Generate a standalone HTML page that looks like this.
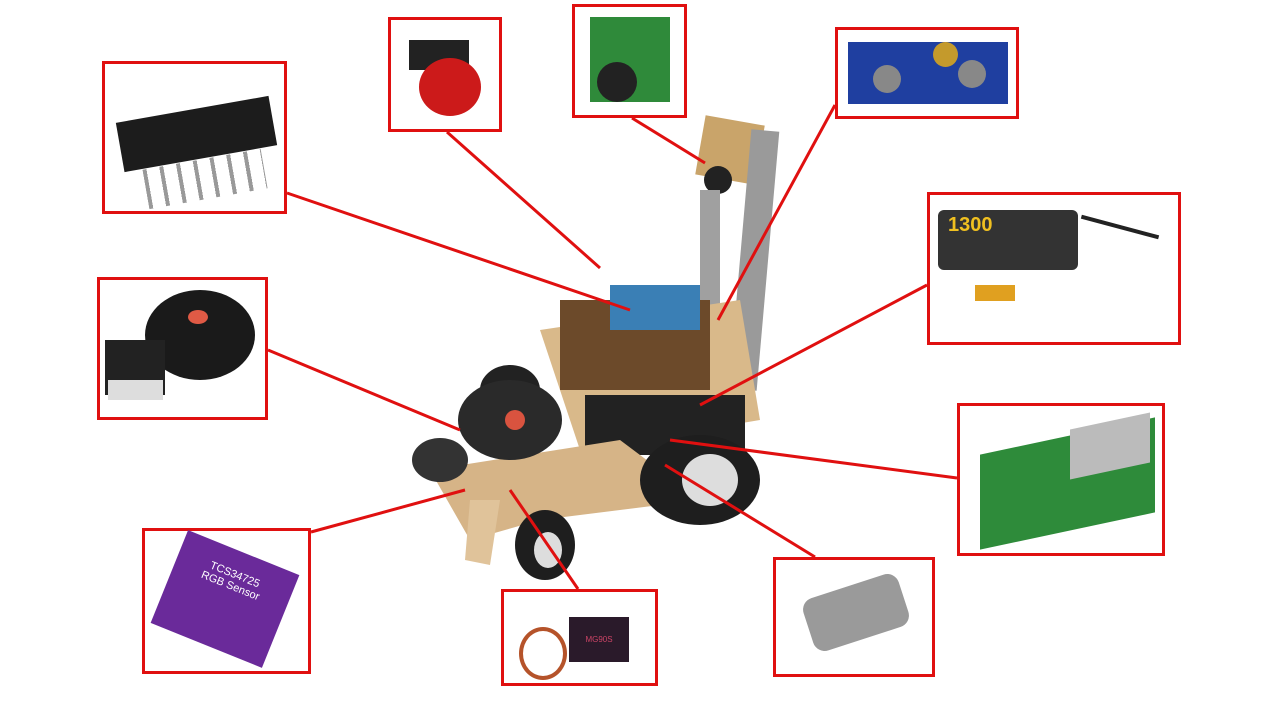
<!DOCTYPE html>
<html><head><meta charset="utf-8">
<style>
html,body{margin:0;padding:0;background:#fff;}
#stage{position:relative;width:1280px;height:720px;overflow:hidden;background:#fff;font-family:"Liberation Sans",sans-serif;}
.box{position:absolute;border:3px solid #e01010;box-sizing:border-box;background:#fff;}
svg{position:absolute;left:0;top:0;}
</style></head><body>
<div id="stage">
<svg width="1280" height="720">
  <!-- robot body -->
  <g>
    <rect x="700" y="120" width="60" height="60" fill="#c9a46a" transform="rotate(10 730 150)"/>
    <circle cx="718" cy="180" r="14" fill="#222"/>
    <rect x="740" y="130" width="28" height="260" fill="#9a9a9a" transform="rotate(5 754 260)"/>
    <rect x="700" y="190" width="20" height="200" fill="#a0a0a0"/>
    <polygon points="540,330 740,300 760,420 580,450" fill="#d9b98a"/>
    <rect x="560" y="300" width="150" height="90" fill="#6c4a2a"/>
    <rect x="610" y="285" width="90" height="45" fill="#3a7fb5"/>
    <rect x="585" y="395" width="160" height="60" fill="#222"/>
    <polygon points="430,470 620,440 700,500 540,520 470,540" fill="#d6b487"/>
    <ellipse cx="700" cy="480" rx="60" ry="45" fill="#1e1e1e"/>
    <ellipse cx="710" cy="480" rx="28" ry="26" fill="#ddd"/>
    <ellipse cx="545" cy="545" rx="30" ry="35" fill="#1e1e1e"/>
    <ellipse cx="548" cy="550" rx="14" ry="18" fill="#ddd"/>
    <ellipse cx="510" cy="390" rx="30" ry="25" fill="#222"/>
    <ellipse cx="510" cy="420" rx="52" ry="40" fill="#2a2a2a"/>
    <circle cx="515" cy="420" r="10" fill="#d9533f"/>
    <ellipse cx="440" cy="460" rx="28" ry="22" fill="#333"/>
    <polygon points="470,500 500,500 490,565 465,560" fill="#e0c39a"/>
  </g>
  <!-- leader lines -->
  <g stroke="#e01010" stroke-width="3">
    <line x1="287" y1="193" x2="630" y2="310"/>
    <line x1="447" y1="132" x2="600" y2="268"/>
    <line x1="632" y1="118" x2="705" y2="163"/>
    <line x1="835" y1="105" x2="718" y2="320"/>
    <line x1="927" y1="285" x2="700" y2="405"/>
    <line x1="268" y1="350" x2="460" y2="430"/>
    <line x1="957" y1="478" x2="670" y2="440"/>
    <line x1="815" y1="557" x2="665" y2="465"/>
    <line x1="578" y1="589" x2="510" y2="490"/>
    <line x1="311" y1="532" x2="465" y2="490"/>
  </g>
</svg>

<div class="box" style="left:102px;top:61px;width:185px;height:153px">
  <div style="position:absolute;left:14px;top:45px;width:155px;height:50px;background:#1c1c1c;transform:rotate(-10deg)"></div>
  <div style="position:absolute;left:40px;top:95px;width:120px;height:40px;background:repeating-linear-gradient(90deg,#999 0 4px,transparent 4px 17px);transform:rotate(-10deg)"></div>
</div>
<div class="box" style="left:388px;top:17px;width:114px;height:115px">
  <div style="position:absolute;left:18px;top:20px;width:60px;height:30px;background:#222"></div>
  <div style="position:absolute;left:28px;top:38px;width:62px;height:58px;border-radius:50%;background:#cc1a1a"></div>
</div>
<div class="box" style="left:572px;top:4px;width:115px;height:114px">
  <div style="position:absolute;left:15px;top:10px;width:80px;height:85px;background:#2f8a3a"></div>
  <div style="position:absolute;left:22px;top:55px;width:40px;height:40px;border-radius:50%;background:#222"></div>
</div>
<div class="box" style="left:835px;top:27px;width:184px;height:92px">
  <div style="position:absolute;left:10px;top:12px;width:160px;height:62px;background:#1f3fa0"></div>
  <div style="position:absolute;left:35px;top:35px;width:28px;height:28px;border-radius:50%;background:#888"></div>
  <div style="position:absolute;left:120px;top:30px;width:28px;height:28px;border-radius:50%;background:#888"></div>
  <div style="position:absolute;left:95px;top:12px;width:25px;height:25px;background:#c49a2c;border-radius:50%"></div>
</div>
<div class="box" style="left:927px;top:192px;width:254px;height:153px">
  <div style="position:absolute;left:8px;top:15px;width:140px;height:60px;background:#333;border-radius:6px;color:#f0c020;font-weight:bold;font-size:20px;padding:4px 10px;box-sizing:border-box">1300</div>
  <div style="position:absolute;left:150px;top:30px;width:80px;height:4px;background:#222;transform:rotate(15deg)"></div>
  <div style="position:absolute;left:45px;top:90px;width:40px;height:16px;background:#e0a020"></div>
</div>
<div class="box" style="left:97px;top:277px;width:171px;height:143px">
  <div style="position:absolute;left:45px;top:10px;width:110px;height:90px;border-radius:50%;background:#1a1a1a"></div>
  <div style="position:absolute;left:88px;top:30px;width:20px;height:14px;border-radius:50%;background:#e05a45"></div>
  <div style="position:absolute;left:5px;top:60px;width:60px;height:55px;background:#222"></div>
  <div style="position:absolute;left:8px;top:100px;width:55px;height:20px;background:#ddd"></div>
</div>
<div class="box" style="left:957px;top:403px;width:208px;height:153px">
  <div style="position:absolute;left:20px;top:30px;width:175px;height:95px;background:#2e8b3a;transform:skewY(-12deg)"></div>
  <div style="position:absolute;left:110px;top:15px;width:80px;height:50px;background:#bbb;transform:skewY(-12deg)"></div>
</div>
<div class="box" style="left:773px;top:557px;width:162px;height:120px">
  <div style="position:absolute;left:30px;top:25px;width:100px;height:55px;background:#9a9a9a;border-radius:12px;transform:rotate(-18deg)"></div>
</div>
<div class="box" style="left:501px;top:589px;width:157px;height:97px">
  <div style="position:absolute;left:65px;top:25px;width:60px;height:45px;background:#2a1a2a;color:#c46;font-size:8px;text-align:center;line-height:45px">MG90S</div>
  <div style="position:absolute;left:15px;top:35px;width:40px;height:45px;border:4px solid #b5532a;border-radius:50%"></div>
</div>
<div class="box" style="left:142px;top:528px;width:169px;height:146px">
  <div style="position:absolute;left:20px;top:18px;width:120px;height:100px;background:#6a2a9a;transform:rotate(22deg);color:#fff;font-size:11px;text-align:center;padding-top:18px;box-sizing:border-box">TCS34725<br>RGB Sensor</div>
</div>
</div>
</body></html>
